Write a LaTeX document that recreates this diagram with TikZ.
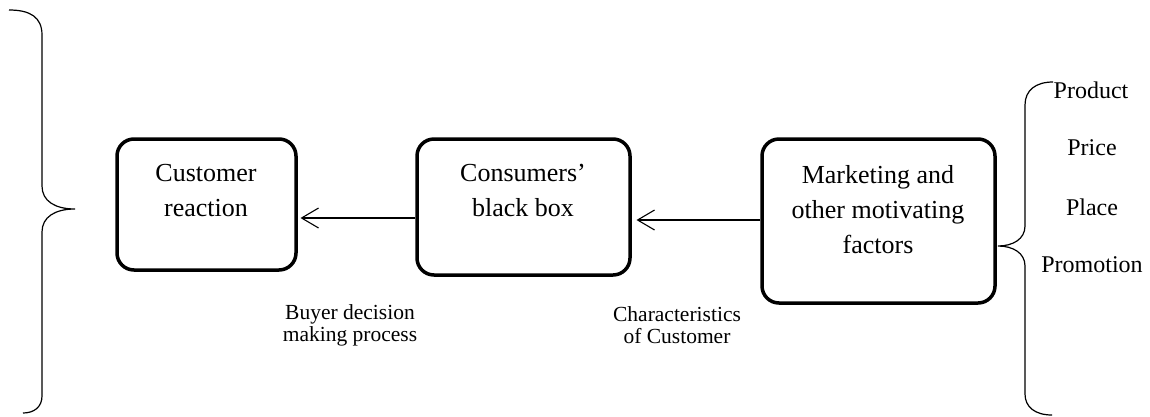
\documentclass[tikz,border=0pt]{standalone}
\usepackage{fontspec}
\setmainfont{Liberation Serif}
\usetikzlibrary{arrows.meta}
\begin{document}
\begin{tikzpicture}[x=1pt,y=-1pt,
  box/.style={draw, line width=3.5pt, rounded corners=17pt, inner sep=0pt},
  bigtxt/.style={align=center, inner sep=0pt, font=\fontsize{26}{35}\selectfont},
  smalltxt/.style={align=center, inner sep=0pt, font=\fontsize{21.5}{22}\selectfont},
  mixtxt/.style={inner sep=0pt, font=\fontsize{24}{30}\selectfont},
  conn/.style={line width=1.1pt, -{Straight Barb[length=17pt,width=20pt,line width=1.1pt]}},
  brace/.style={line width=1.2pt}]
\useasboundingbox (0,0) rectangle (1150,416);
% boxes
\node[box, minimum width=179pt, minimum height=131pt] (b1) at (206.5,204.5) {};
\node[box, minimum width=213pt, minimum height=136pt] (b2) at (523.5,207) {};
\node[box, minimum width=233pt, minimum height=164pt] (b3) at (878.5,221) {};
% box texts
\node[bigtxt] (t1) at (206,190.5) {Customer\\reaction};
\node[bigtxt] (t2) at (523,190.5) {Consumers’\\black box};
\node[bigtxt] (t3) at (878,210) {Marketing and\\other motivating\\factors};
% connectors
\draw[conn] (b2.west |- 0,218) coordinate (a1s) -- (300.5,218) coordinate (a1e);
\draw[conn] (b3.west |- 0,220) coordinate (a2s) -- (636.5,220) coordinate (a2e);
% lower labels
\node[smalltxt] (l1) at (350,325) {Buyer decision\\making process};
\node[smalltxt] (l2) at (677,325) {Characteristics\\of Customer};
% 4P labels
\node[mixtxt] (p1) at (1091,90) {Product};
\node[mixtxt] (p2) at (1092,148) {Price};
\node[mixtxt] (p3) at (1092,207) {Place};
\node[mixtxt] (p4) at (1092,265) {Promotion};
% left brace
\draw[brace] (9,10) .. controls (30,10) and (42,17) .. (42,35) -- (42,186)
  .. controls (42,201) and (55,209) .. (75,209)
  .. controls (55,209) and (42,217) .. (42,232) -- (42,396)
  .. controls (42,407) and (34,413) .. (23,413);
% right brace
\draw[brace] (1053,82) .. controls (1036,82) and (1025,90) .. (1025,105) -- (1025,226)
  .. controls (1025,239) and (1013,246) .. (998,246)
  .. controls (1013,246) and (1025,253) .. (1025,266) -- (1025,394)
  .. controls (1025,407) and (1035,415) .. (1052,415);
\end{tikzpicture}
\end{document}
